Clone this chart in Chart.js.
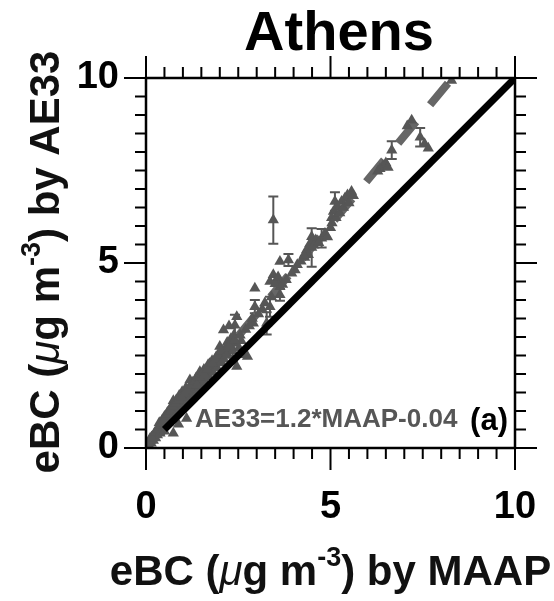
<!DOCTYPE html>
<html>
<head>
<meta charset="utf-8">
<script src="https://cdn.jsdelivr.net/npm/chart.js@4.4.1/dist/chart.umd.min.js"></script>
<style>
  html, body { margin: 0; padding: 0; background: #fff; }
  canvas { display: block; }
</style>
</head>
<body>
<canvas id="myChart-athens" width="554" height="601"></canvas>
<script>
// datos (eBC MAAP vs AE33, Athens)
const titulo = "Athens";
const ecuacion = "AE33=1.2*MAAP-0.04";
const panel = "(a)";
const tickVals = [0, 5, 10];

const pointX = [
  8.28, 7.20, 7.08, 7.43, 7.55, 7.65, 6.66, 6.50, 6.42, 6.34, 6.56, 6.28,
  5.57, 5.46, 5.39, 5.30, 5.12, 5.20, 5.08, 5.03, 5.04, 5.00,
  3.45,
  4.49, 4.49, 4.60, 4.76, 4.35, 4.44, 4.40, 4.30,
  3.63, 3.86, 4.04, 3.45, 3.54, 3.63, 3.63, 3.36, 3.50, 3.58,
  2.95, 2.95, 3.36, 3.27, 2.91, 2.41, 2.46, 2.10, 2.25, 2.00, 2.44, 2.63, 2.75, 2.19, 2.46, 2.32, 2.08,
  2.70, 2.80, 2.88, 3.05, 3.15, 3.22, 3.40, 3.70, 3.80, 3.95, 4.10, 4.20, 4.28, 4.55, 4.68, 4.85,
  4.92, 5.15, 5.25, 5.35, 5.50, 5.62,
  2.30, 2.38, 2.20, 2.35, 2.52, 2.58,
  0.03, 0.06, 0.08, 0.12, 0.14, 0.11, 0.18, 0.20, 0.22, 0.26, 0.28, 0.31, 0.34, 0.37, 0.36, 0.42,
  0.44, 0.46, 0.50, 0.52, 0.55, 0.58, 0.60, 0.63, 0.66, 0.68, 0.70, 0.74, 0.74, 0.78, 0.82, 0.84,
  0.86, 0.90, 0.93, 0.95, 0.98, 1.01, 1.02, 1.05, 1.08, 1.12, 1.14, 1.19, 1.20, 1.24, 1.27, 1.30,
  1.33, 1.36, 1.40, 1.42, 1.46, 1.50, 1.53, 1.57, 1.60, 1.64, 1.68, 1.71, 1.75, 1.79, 1.82, 1.86,
  1.90, 1.93, 1.97, 2.02, 2.05, 2.12, 2.16, 2.22, 2.28, 2.35,
  0.15, 0.24, 0.32, 0.40, 0.47, 0.54, 0.61, 0.67, 0.72, 0.80, 0.88, 0.96, 1.04, 1.10, 1.17, 1.25,
  1.32, 1.38, 1.45, 1.52, 1.58, 1.66, 1.72, 1.80, 1.88, 1.95, 2.04, 2.10, 2.18, 2.26, 2.40, 2.55,
  0.38, 0.74, 0.88, 1.10, 0.74, 0.50
];
const pointY = [
  9.93, 8.86, 8.70, 8.40, 8.22, 8.10, 8.05, 7.70, 7.62, 7.55, 7.58, 7.48,
  6.93, 6.84, 6.75, 6.66, 6.66, 6.52, 6.39, 6.22, 6.08, 5.95,
  6.16,
  5.71, 5.42, 5.62, 5.67, 5.35, 5.52, 5.22, 5.15,
  5.04, 5.08, 4.81, 4.68, 4.54, 4.36, 4.14, 4.50, 4.44, 4.62,
  4.32, 3.82, 3.82, 3.37, 3.37, 3.32, 3.55, 3.19, 3.30, 2.74, 2.83, 2.52, 2.47, 2.56, 2.20, 2.72, 2.45,
  3.20, 3.30, 3.50, 3.62, 3.75, 3.92, 4.08, 4.42, 4.55, 4.72, 4.95, 5.05, 5.20, 5.48, 5.55, 5.80,
  5.70, 6.22, 6.35, 6.50, 6.62, 6.82,
  2.95, 3.05, 2.85, 2.40, 2.70, 2.90,
  0.05, 0.12, 0.06, 0.20, 0.13, 0.26, 0.30, 0.20, 0.38, 0.27, 0.46, 0.35, 0.55, 0.44, 0.68, 0.50,
  0.76, 0.58, 0.85, 0.63, 0.74, 0.96, 0.68, 0.82, 1.08, 0.78, 0.95, 1.28, 0.86, 1.10, 1.30, 0.95,
  1.18, 1.42, 1.06, 1.25, 1.52, 1.43, 1.16, 1.34, 1.62, 1.26, 1.46, 1.84, 1.36, 1.58, 1.78, 1.46,
  1.68, 1.90, 1.58, 1.78, 2.06, 1.70, 1.90, 2.12, 1.80, 2.02, 2.24, 1.92, 2.14, 2.36, 2.04, 2.26,
  2.46, 2.16, 2.40, 2.58, 2.30, 2.52, 2.70, 2.62, 2.84, 2.62,
  0.30, 0.42, 0.50, 0.62, 0.72, 0.86, 0.92, 1.00, 1.12, 1.20, 1.30, 1.38, 1.48, 1.56, 1.64, 1.70,
  1.80, 1.70, 1.92, 2.00, 1.98, 2.12, 2.28, 2.30, 2.40, 2.52, 2.62, 2.40, 2.50, 2.75, 2.92, 3.05,
  0.40, 0.40, 0.64, 0.80, 0.80, 0.45
];

// barras de error (desviacion)
const barX   = [3.45, 7.43, 6.66, 5.12, 4.49, 4.76, 3.86, 3.63, 2.95, 3.36, 3.27, 2.41];
const barY   = [6.16, 8.40, 8.05, 6.66, 5.42, 5.67, 5.08, 4.14, 3.82, 3.82, 3.37, 3.32];
const barErr = [0.64, 0.25, 0.24, 0.25, 0.52, 0.25, 0.16, 0.16, 0.18, 0.27, 0.30, 0.28];

// recta de ajuste y recta 1:1
const fitX = [0, 8.30];
const fitY = [0.02, 10];
const unoX = [0.5, 10];
const unoY = [0.5, 10];

const FAM = '"Liberation Sans", Arial, sans-serif';
const GRIS = '#565656';

function texto_rico(ctx, partes, cx, baseY) {
  let total = 0;
  partes.forEach(p => { ctx.font = p.font; p.w = ctx.measureText(p.t).width; total += p.w; });
  let xx = cx - total / 2;
  partes.forEach(p => {
    ctx.font = p.font;
    ctx.fillText(p.t, xx, baseY - (p.rise || 0));
    xx += p.w;
  });
}

function partes_titulo(ultimo) {
  return [
    { t: "eBC (", font: "bold 42px " + FAM },
    { t: "\u03bc", font: "italic 42px " + FAM },
    { t: "g m", font: "bold 42px " + FAM },
    { t: "-3", font: "bold 27px " + FAM, rise: 19 },
    { t: ") by " + ultimo, font: "bold 42px " + FAM }
  ];
}

const marco = {
  id: "marco",
  beforeDatasetsDraw(chart) {
    const { ctx, chartArea: a, scales: { x, y } } = chart;
    ctx.save();
    ctx.beginPath();
    ctx.rect(a.left, a.top, a.right - a.left, a.bottom - a.top);
    ctx.clip();
    ctx.strokeStyle = GRIS;
    ctx.lineWidth = 2;
    ctx.beginPath();
    barX.forEach((v, i) => {
      const px = x.getPixelForValue(v);
      const y1 = y.getPixelForValue(barY[i] + barErr[i]);
      const y2 = y.getPixelForValue(barY[i] - barErr[i]);
      ctx.moveTo(px, y1); ctx.lineTo(px, y2);
      ctx.moveTo(px - 5, y1); ctx.lineTo(px + 5, y1);
      ctx.moveTo(px - 5, y2); ctx.lineTo(px + 5, y2);
    });
    ctx.stroke();
    ctx.restore();
  },
  afterDatasetsDraw(chart) {
    const { ctx, chartArea: a, scales: { x, y } } = chart;
    ctx.save();
    ctx.strokeStyle = "#000";
    ctx.lineWidth = 2.5;
    ctx.strokeRect(a.left, a.top, a.right - a.left, a.bottom - a.top);
    ctx.lineWidth = 2;
    ctx.beginPath();
    for (let i = 0; i <= 20; i++) {
      const v = i * 0.5;
      const len = i % 10 === 0 ? 22 : 11;
      const px = x.getPixelForValue(v), py = y.getPixelForValue(v);
      ctx.moveTo(px, a.bottom); ctx.lineTo(px, a.bottom + len);
      ctx.moveTo(px, a.top); ctx.lineTo(px, a.top - len);
      ctx.moveTo(a.left, py); ctx.lineTo(a.left - len, py);
      ctx.moveTo(a.right, py); ctx.lineTo(a.right + len, py);
    }
    ctx.stroke();

    // textos dentro del grafico
    ctx.textBaseline = "alphabetic";
    ctx.textAlign = "left";
    ctx.fillStyle = GRIS;
    ctx.font = "bold 26px " + FAM;
    ctx.fillText(ecuacion, x.getPixelForValue(1.33), y.getPixelForValue(0.57));
    ctx.textAlign = "right";
    ctx.fillStyle = "#000";
    ctx.font = "bold 31px " + FAM;
    ctx.fillText(panel, x.getPixelForValue(9.81), y.getPixelForValue(0.5));

    // titulo
    ctx.textAlign = "center";
    ctx.font = "bold 56px " + FAM;
    ctx.fillText(titulo, 339, 50);

    // titulos de ejes
    ctx.textAlign = "left";
    ctx.fillStyle = "#111";
    texto_rico(ctx, partes_titulo("MAAP"), (a.left + a.right) / 2, 585);
    ctx.translate(59, 262);
    ctx.rotate(-Math.PI / 2);
    texto_rico(ctx, partes_titulo("AE33"), 0, 0);
    ctx.restore();
  }
};

function grafico_athens() {
  const ctx = document.getElementById("myChart-athens");
  new Chart(ctx, {
    type: "scatter",
    data: {
      datasets: [
        {
          label: "1:1",
          data: unoX.map((v, i) => ({ x: v, y: unoY[i] })),
          showLine: true,
          borderColor: "#000",
          borderWidth: 7,
          pointRadius: 0,
          order: 0,
        },
        {
          label: "AE33 vs MAAP",
          data: pointX.map((v, i) => ({ x: v, y: pointY[i] })),
          pointStyle: "triangle",
          pointRadius: 6.5,
          backgroundColor: GRIS,
          borderColor: GRIS,
          borderWidth: 0,
          order: 1,
        },
        {
          label: "ajuste",
          data: fitX.map((v, i) => ({ x: v, y: fitY[i] })),
          showLine: true,
          borderColor: "#666",
          borderWidth: 8,
          borderDash: [28, 22],
          borderDashOffset: 5,
          pointRadius: 0,
          clip: 0,
          order: 2,
        },
      ],
    },
    options: {
      responsive: false,
      animation: false,
      events: [],
      layout: { padding: { left: 0, right: 39, top: 78, bottom: 0 } },
      plugins: {
        legend: { display: false },
        tooltip: { enabled: false },
        title: { display: false },
      },
      scales: {
        x: {
          type: "linear",
          min: 0,
          max: 10,
          afterFit: s => { s.height = 153; s.paddingLeft = 0; s.paddingRight = 0; },
          grid: { display: false, drawTicks: false },
          border: { display: false },
          ticks: {
            stepSize: 5,
            padding: 37,
            maxRotation: 0,
            color: "#000",
            font: { family: FAM, size: 38, weight: "bold" },
          },
          afterBuildTicks: s => { s.ticks = tickVals.map(v => ({ value: v })); },
        },
        y: {
          type: "linear",
          min: 0,
          max: 10,
          afterFit: s => { s.width = 146; s.paddingTop = 0; s.paddingBottom = 0; },
          grid: { display: false, drawTicks: false },
          border: { display: false },
          ticks: {
            stepSize: 5,
            padding: 27,
            color: "#000",
            font: { family: FAM, size: 38, weight: "bold" },
          },
          afterBuildTicks: s => { s.ticks = tickVals.map(v => ({ value: v })); },
        },
      },
    },
    plugins: [marco],
  });
}
grafico_athens()
</script>
</body>
</html>
